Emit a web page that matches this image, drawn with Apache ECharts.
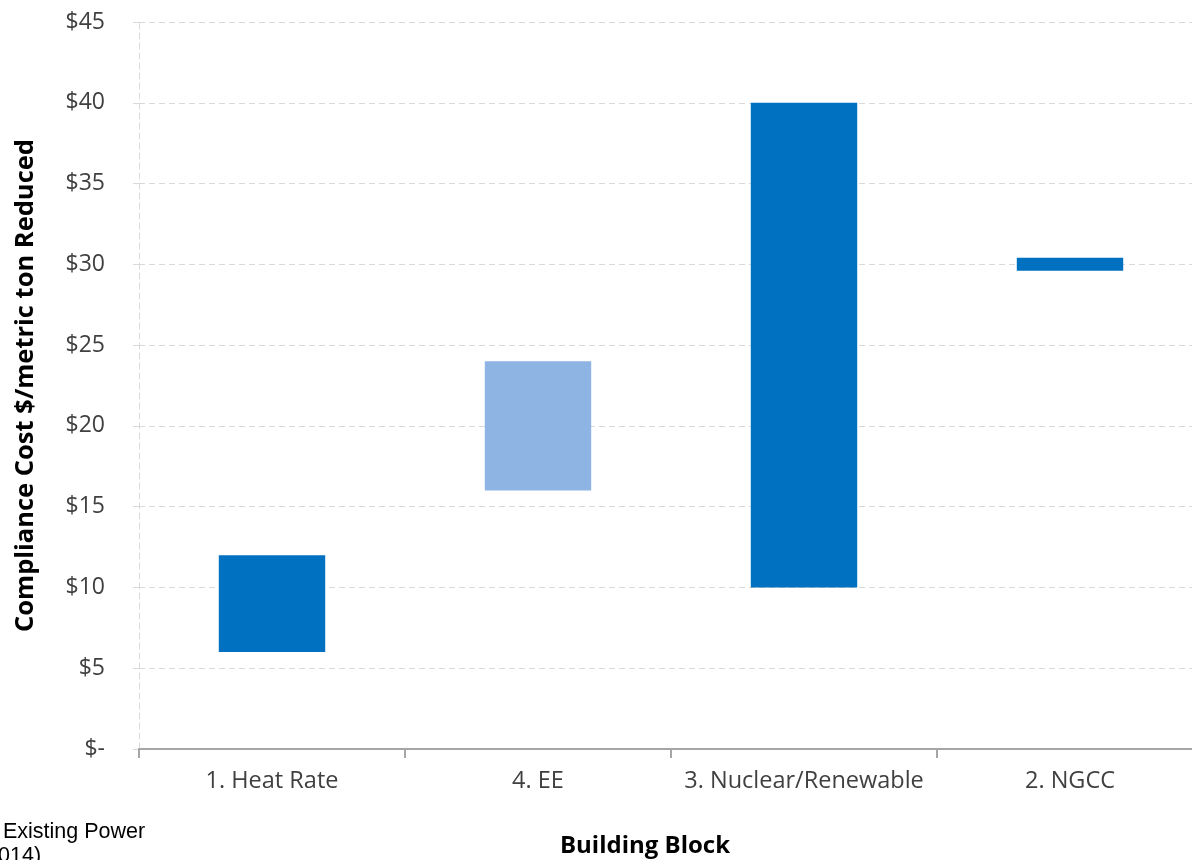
<!DOCTYPE html>
<html>
<head>
<meta charset="utf-8">
<script src="https://cdn.jsdelivr.net/npm/echarts@6/dist/echarts.min.js"></script>
<style>
  html, body { margin: 0; padding: 0; background: #ffffff; }
  #chart { width: 1192px; height: 860px; }
</style>
</head>
<body>
<div id="chart"></div>
<script>
// Building blocks and their compliance cost range ($/metric ton reduced)
const categories = ['1. Heat Rate', '4. EE', '3. Nuclear/Renewable', '2. NGCC'];
const lowCost = [6, 16, 10, 29.6];
const highCost = [12, 24, 40, 30.4];
const barColors = ['#0070C0', '#8EB4E3', '#0070C0', '#0070C0'];
const yTicks = [0, 5, 10, 15, 20, 25, 30, 35, 40, 45];

const labelFont = '"Open Sans", Lato, sans-serif';
const gridColor = '#d9d9d9';

const chart = echarts.init(document.getElementById('chart'), null, { renderer: 'canvas' });

chart.setOption({
  animation: false,
  backgroundColor: '#ffffff',
  grid: {
    left: 139, top: 22, width: 1064, height: 727,
    containLabel: false,
    outerBoundsMode: 'none'
  },
  xAxis: {
    type: 'category',
    data: categories,
    boundaryGap: true,
    axisLine: { show: true, lineStyle: { color: '#a6a6a6', width: 2 } },
    axisTick: { show: true, interval: 0, length: 9, lineStyle: { color: '#a6a6a6', width: 2 } },
    axisLabel: { interval: 0, margin: 20, fontFamily: labelFont, fontSize: 23.5, color: '#404040' },
    splitLine: { show: false }
  },
  yAxis: {
    type: 'value',
    min: yTicks[0],
    max: yTicks[yTicks.length - 1],
    interval: yTicks[1] - yTicks[0],
    name: 'Compliance Cost $/metric ton Reduced',
    nameLocation: 'middle',
    nameGap: 100,
    nameTextStyle: { fontFamily: labelFont, fontSize: 25.5, fontWeight: 'bold', color: '#000000' },
    axisLine: { show: true, lineStyle: { color: gridColor, width: 1, type: [6, 4] } },
    axisTick: { show: true, length: 10, lineStyle: { color: gridColor, width: 1, type: [6, 4] } },
    axisLabel: {
      margin: 34,
      fontFamily: labelFont,
      fontSize: 23,
      color: '#404040',
      formatter: v => (v === 0 ? '$-' : '$' + v)
    },
    splitLine: { show: true, lineStyle: { color: gridColor, width: 1, type: [6, 4] } }
  },
  series: [
    {
      // invisible base lifting each bar to its low cost
      type: 'bar',
      stack: 'range',
      barWidth: '40%',
      silent: true,
      itemStyle: { color: 'transparent' },
      data: lowCost
    },
    {
      type: 'bar',
      stack: 'range',
      barWidth: '40%',
      data: highCost.map((h, i) => ({
        value: +(h - lowCost[i]).toFixed(2),
        itemStyle: { color: barColors[i] }
      }))
    }
  ],
  graphic: [
    {
      // x-axis title
      type: 'text',
      x: 645,
      y: 846,
      style: {
        text: 'Building Block',
        font: 'bold 24px "Open Sans", Lato, sans-serif',
        fill: '#000000',
        align: 'center',
        verticalAlign: 'middle'
      }
    },
    {
      type: 'text',
      left: 3,
      top: 821,
      style: { text: 'Existing Power', font: '21.5px "Liberation Sans", Arial, sans-serif', fill: '#000000' }
    },
    {
      type: 'text',
      left: -21,
      top: 845,
      style: { text: '(2014)', font: '21.5px "Liberation Sans", Arial, sans-serif', fill: '#000000' }
    }
  ]
});
</script>
</body>
</html>
